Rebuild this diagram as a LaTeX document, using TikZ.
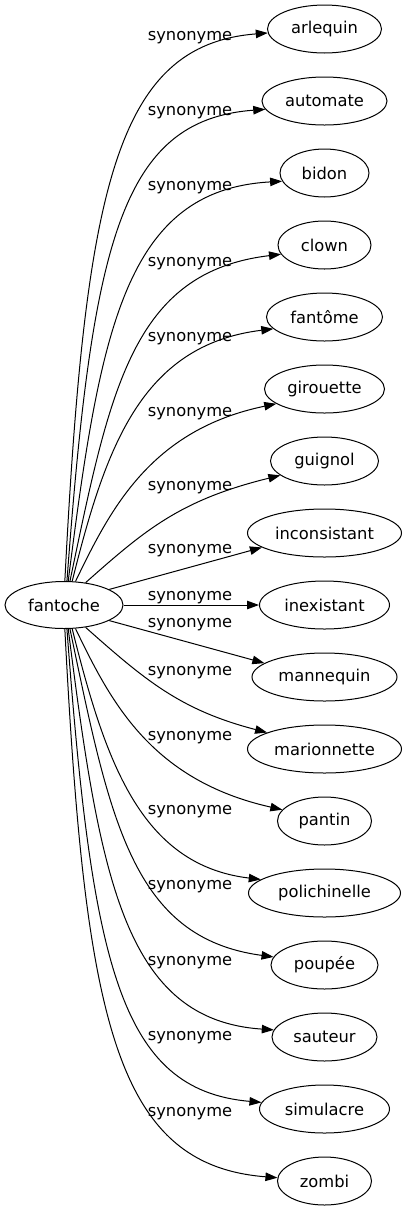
\documentclass[tikz,border=0pt]{standalone}
\usepackage{fontspec}
\setmainfont{DejaVu Sans}
\usetikzlibrary{arrows.meta,shapes.geometric}
\begin{document}
\begin{tikzpicture}[x=1pt,y=-1pt]
\tikzset{
 word/.style={ellipse, draw, line width=1pt, inner sep=0pt, minimum height=48pt, font=\fontsize{16.3}{19}\selectfont},
 rel/.style={font=\fontsize{16.3}{19}\selectfont, inner sep=0pt, anchor=base},
 syn/.style={draw, line width=1pt, -{Triangle[length=12pt,width=8.5pt]}},
}
\useasboundingbox (0,0) rectangle (406,1211);
\node[word, minimum width=118pt, minimum height=47pt] (src) at (64,605) {fantoche};
\node[word, minimum width=114pt] (t0) at (324.5,29) {arlequin};
\node[word, minimum width=125pt] (t1) at (324.5,101) {automate};
\node[word, minimum width=89pt] (t2) at (324.5,173) {bidon};
\node[word, minimum width=93pt] (t3) at (324.5,245) {clown};
\node[word, minimum width=116pt] (t4) at (324.5,317) {fantôme};
\node[word, minimum width=120pt] (t5) at (324.5,389) {girouette};
\node[word, minimum width=108pt] (t6) at (324.5,461) {guignol};
\node[word, minimum width=154pt] (t7) at (324.5,533) {inconsistant};
\node[word, minimum width=130pt] (t8) at (324.5,605) {inexistant};
\node[word, minimum width=145pt] (t9) at (324.5,677) {mannequin};
\node[word, minimum width=154pt] (t10) at (324.5,749) {marionnette};
\node[word, minimum width=94pt] (t11) at (324.5,821) {pantin};
\node[word, minimum width=152pt] (t12) at (324.5,893) {polichinelle};
\node[word, minimum width=107pt] (t13) at (324.5,965) {poupée};
\node[word, minimum width=105pt] (t14) at (324.5,1037) {sauteur};
\node[word, minimum width=130pt] (t15) at (324.5,1109) {simulacre};
\node[word, minimum width=94pt] (t16) at (324.5,1181) {zombi};
% edges
\draw[syn] (src.88) .. controls (85,190) and (115,45) .. (t0.184);
\draw[syn] (src.83) .. controls (92,245) and (120,120) .. (t1.188);
\draw[syn] (src.80) .. controls (100,330) and (125,190) .. (t2.191);
\draw[syn] (src.76) .. controls (110,390) and (132,272) .. (t3.192);
\draw[syn] (src.71) .. controls (105,450) and (140,345) .. (t4.193.5);
\draw[syn] (src.64) .. controls (110,510) and (150,430) .. (t5.197);
\draw[syn] (src.46) .. controls (145,530) and (180,500) .. (t6.198);
\draw[syn] (src.19) -- (t7.193);
\draw[syn] (src.0) -- (t8.180);
\draw[syn] (src.341) -- (t9.167);
\draw[syn] (src.314) .. controls (145,680) and (180,710) .. (t10.164);
\draw[syn] (src.296) .. controls (110,700) and (150,780) .. (t11.165.5);
\draw[syn] (src.289) .. controls (105,760) and (140,865) .. (t12.168);
\draw[syn] (src.284) .. controls (110,820) and (132,938) .. (t13.171);
\draw[syn] (src.280) .. controls (100,880) and (125,1020) .. (t14.172);
\draw[syn] (src.277) .. controls (92,965) and (120,1090) .. (t15.174);
\draw[syn] (src.272) .. controls (85,1020) and (115,1165) .. (t16.176);
% labels
\node[rel] (l0) at (190,40.7) {synonyme};
\node[rel] (l1) at (190,115.7) {synonyme};
\node[rel] (l2) at (190,190.7) {synonyme};
\node[rel] (l3) at (190,266.5) {synonyme};
\node[rel] (l4) at (190,341.7) {synonyme};
\node[rel] (l5) at (190,416.7) {synonyme};
\node[rel] (l6) at (190,490) {synonyme};
\node[rel] (l7) at (190,553.3) {synonyme};
\node[rel] (l8) at (190,600) {synonyme};
\node[rel] (l9) at (190,627.5) {synonyme};
\node[rel] (l10) at (190,675) {synonyme};
\node[rel] (l11) at (190,740) {synonyme};
\node[rel] (l12) at (190,814) {synonyme};
\node[rel] (l13) at (190,889) {synonyme};
\node[rel] (l14) at (190,965) {synonyme};
\node[rel] (l15) at (190,1040.7) {synonyme};
\node[rel] (l16) at (190,1116) {synonyme};
\end{tikzpicture}
\end{document}
